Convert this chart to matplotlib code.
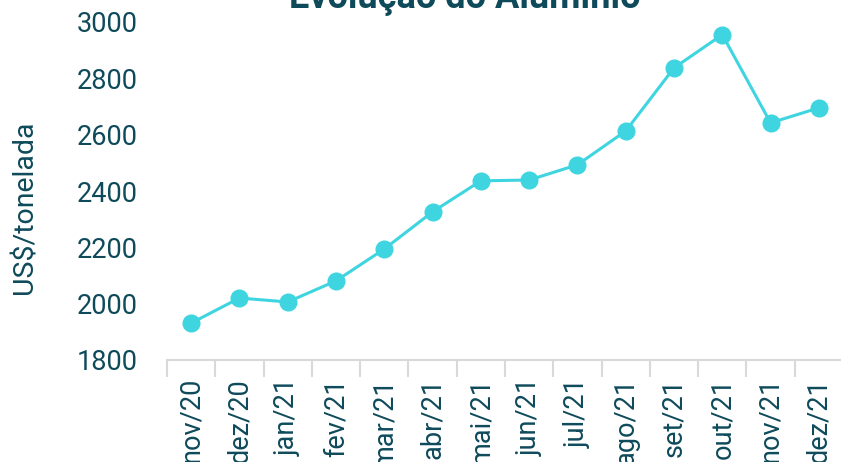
import matplotlib
matplotlib.use("Agg")
import matplotlib.pyplot as plt
import numpy as np

plt.rcParams['font.family'] = ['Roboto', 'DejaVu Sans']

months = ["nov/20", "dez/20", "jan/21", "fev/21", "mar/21", "abr/21", "mai/21",
          "jun/21", "jul/21", "ago/21", "set/21", "out/21", "nov/21", "dez/21"]
prices = [1931, 2020, 2006, 2081, 2194, 2326, 2436,
          2439, 2493, 2613, 2837, 2955, 2642, 2695]

text_color = "#0e4a5a"
line_color = "#3fd5e0"

fig = plt.figure(figsize=(8.41, 4.62), dpi=100)
ax = fig.add_axes([167 / 841, 1 - 360 / 462, (843 - 167) / 841, (360 - 22) / 462])

x = np.arange(len(months))
ax.plot(x, prices, color=line_color, lw=2.2, marker="o", ms=12, zorder=3)

ax.set_xlim(-0.5, len(months) - 0.5)
ax.set_ylim(1800, 3000)
ax.set_yticks(np.arange(1800, 3001, 200))

# category labels at centres, tick marks at boundaries
ax.set_xticks(x)
ax.set_xticklabels(months, rotation=90, fontsize=19.5, color=text_color)
ax.tick_params(axis="x", which="major", length=0, pad=13)
ax.set_xticks(np.arange(-0.5, len(months), 1), minor=True)
ax.tick_params(axis="x", which="minor", length=12, width=1.5, color="#d9d9d9")

ax.tick_params(axis="y", length=0, labelsize=19.5, labelcolor=text_color, pad=21)

for s in ["left", "right", "top"]:
    ax.spines[s].set_visible(False)
ax.spines["bottom"].set_color("#d9d9d9")
ax.spines["bottom"].set_linewidth(1.5)

fig.text(25 / 841, 1 - 207 / 462, "US$/tonelada", rotation=90, fontsize=20.5,
         color=text_color, ha="center", va="center")
fig.text(465 / 841, 1 - 8 / 462, "Evolução do Alumínio", fontsize=26,
         fontweight="bold", color=text_color, ha="center", va="baseline")

fig.savefig("out.png", dpi=100)
